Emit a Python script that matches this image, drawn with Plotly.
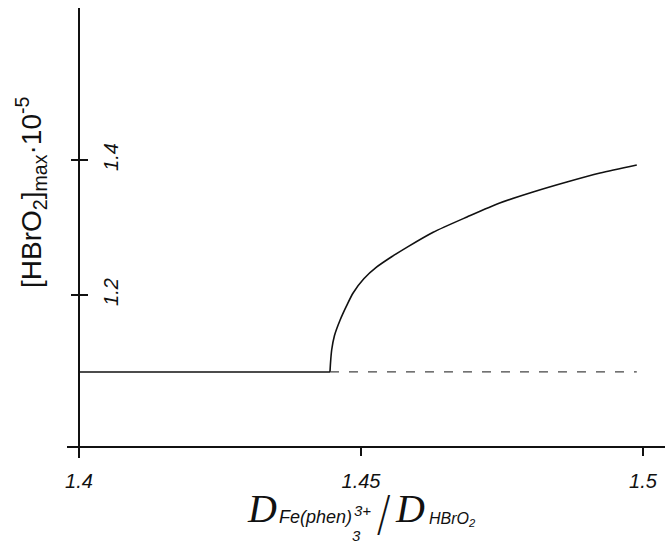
import plotly.graph_objects as go

# Diffusion-coefficient ratio (x) and maximal HBrO2 concentration (y, units of 1e-5)
flat_ratio = [1.4, 1.4445]
flat_hbro2 = [1.086, 1.086]

branch_ratio = [1.4445, 1.4446, 1.4448, 1.4453, 1.4463, 1.4475, 1.4486, 1.4505,
                1.4528, 1.4555, 1.4582, 1.4628, 1.4688, 1.4746, 1.4805, 1.4865,
                1.4924, 1.4989]
branch_hbro2 = [1.086, 1.100, 1.1185, 1.140, 1.163, 1.185, 1.203, 1.224,
                1.2415, 1.257, 1.271, 1.293, 1.3156, 1.3363, 1.3526, 1.3674,
                1.3807, 1.3926]

unstable_ratio = [1.4445, 1.4989]
unstable_hbro2 = [1.086, 1.086]

x_ticks = [1.4, 1.45, 1.5]
x_tick_text = ["1.4", "1.45", "1.5"]
y_ticks = [1.2, 1.4]
y_tick_text = ["1.2", "1.4"]

W, H = 665, 545
L, R, T, B = 67, 0, 8, 87
X_RANGE = [1.397872, 1.503901]
Y_RANGE = [0.958519, 1.625185]
X_AXIS_POS = 0.02444   # paper y of the x axis line
Y_AXIS_POS = 0.020067  # paper x of the y axis line

FONT = "Liberation Sans"
INK = "#111111"

fig = go.Figure()

fig.add_trace(go.Scatter(x=flat_ratio, y=flat_hbro2, mode="lines",
                         line=dict(color=INK, width=1.6),
                         showlegend=False, hoverinfo="skip"))
fig.add_trace(go.Scatter(x=branch_ratio, y=branch_hbro2, mode="lines",
                         line=dict(color=INK, width=1.6, shape="spline", smoothing=0.7),
                         showlegend=False, hoverinfo="skip"))
# unstable branch lives on the overlay axes (same ranges) so they get drawn
fig.add_trace(go.Scatter(x=unstable_ratio, y=unstable_hbro2, mode="lines",
                         xaxis="x2", yaxis="y2",
                         line=dict(color="#444444", width=1.2, dash="9px,10px"),
                         showlegend=False, hoverinfo="skip"))

axis_common = dict(showgrid=False, zeroline=False, showline=True,
                   linecolor=INK, linewidth=1.5, tickcolor=INK, tickwidth=1.5)
tick_font = dict(family=FONT, size=20, color=INK, style="italic")

fig.update_layout(
    width=W, height=H,
    margin=dict(l=L, r=R, t=T, b=B, pad=0),
    paper_bgcolor="white", plot_bgcolor="white",
    xaxis=dict(range=X_RANGE, anchor="free", position=X_AXIS_POS,
               tickvals=x_ticks, ticktext=x_tick_text, ticks="outside", ticklen=8,
               tickfont=tick_font, ticklabelstandoff=8, **axis_common),
    yaxis=dict(range=Y_RANGE, anchor="free", position=Y_AXIS_POS,
               tickvals=y_ticks, ticks="outside", ticklen=7,
               showticklabels=False, **axis_common),
    xaxis2=dict(range=X_RANGE, overlaying="x", anchor="free", position=X_AXIS_POS,
                tickvals=[1.4], ticks="inside", ticklen=4, showticklabels=False,
                **axis_common),
    # right-hand side of the crossing y ticks, carrying the rotated labels
    yaxis2=dict(range=Y_RANGE, overlaying="y", side="right", anchor="free",
                position=Y_AXIS_POS, tickvals=y_ticks, ticktext=y_tick_text,
                ticks="outside", ticklen=8, tickangle=-90, tickfont=tick_font,
                ticklabelstandoff=6, **axis_common),
)


def px_x(px):
    return (px - L) / (W - L - R)


def px_y(py):
    return (H - B - py) / (H - T - B)


def label(text, cx, cy, size, angle=0, family=FONT, style="italic", weight=400):
    fig.add_annotation(text=text, x=px_x(cx), y=px_y(cy), xref="paper", yref="paper",
                       showarrow=False, xanchor="center", yanchor="middle",
                       textangle=angle,
                       font=dict(family=family, size=size, color=INK, style=style,
                                 weight=weight))


# x axis title: D_Fe(phen)3^3+ / D_HBrO2
label("D", 262, 508, 40, family="Liberation Serif")
label("Fe(phen)", 315, 517, 18)
label("3+", 362, 510, 15)
label("3", 356, 535, 15)
label("/", 383, 513, 46, family="Inter", style="normal", weight=200)
label("D", 410, 508, 40, family="Liberation Serif")
label("HBrO<sub>2</sub>", 452, 519, 16)

# y axis title
label("[HBrO<sub>2</sub>]<sub>max</sub>·10<sup>-5</sup>", 31, 193, 28, angle=-90,
      style="normal")

fig.write_html("out.html")
